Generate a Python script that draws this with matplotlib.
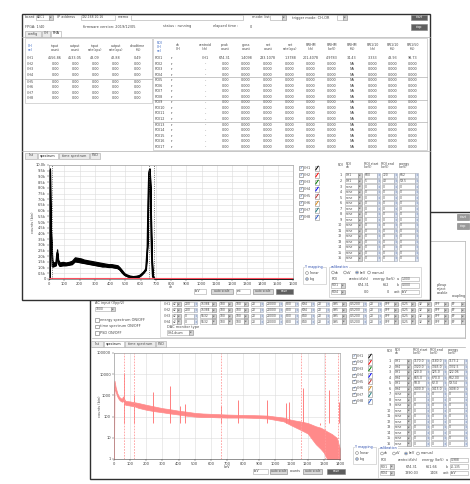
import matplotlib
matplotlib.use("Agg")
import matplotlib.pyplot as plt
from matplotlib.patches import Rectangle, Circle
from matplotlib.ticker import FixedLocator, FuncFormatter

# front window spectrum, CH1 (x = ch, y = counts), noise band
front_ch = [0, 3, 5, 6, 8, 10, 13, 17, 22, 27, 35, 45, 53, 60, 70, 90, 110, 130, 150, 170,
            190, 210, 230, 250, 270, 290, 310, 330, 350, 370, 390, 410, 430, 450, 465, 480,
            495, 510, 530, 550, 570, 590, 605, 620, 635, 645, 650, 655, 660, 665, 670, 675,
            680, 690, 720, 1600]
front_lo = [0, 100, 3300, 9500, 7200, 5200, 3800, 2600, 1100, 1100, 1150, 1200, 2300, 1400,
            1150, 1200, 1200, 1250, 1300, 1550, 1500, 1450, 1400, 1350, 1300, 1250, 1200, 1150,
            1100, 1100, 1050, 1050, 1000, 950, 800, 550, 350, 250, 150, 150, 150, 200, 350, 550,
            800, 2800, 6800, 9300, 9500, 7800, 3800, 1400, 200, 30, 10, 10]
front_hi = [0, 300, 3600, 9700, 7600, 5700, 4200, 3100, 1500, 1500, 1450, 1500, 2600, 1700,
            1450, 1500, 1450, 1500, 1600, 1900, 1850, 1800, 1700, 1650, 1600, 1550, 1500, 1450,
            1400, 1350, 1300, 1300, 1250, 1200, 1000, 750, 500, 400, 300, 250, 280, 350, 500, 700,
            1000, 3200, 7200, 9600, 9700, 8200, 4200, 1700, 400, 80, 30, 30]
front_ch2_x = [0, 1600]
front_ch2_y = [120, 120]
front_roi = [20, 655, 690]

# back window spectrum (x = keV, log counts)
back_kev = [0, 3, 10, 20, 30, 40, 50, 55, 65, 70, 80, 90, 100, 110, 130, 150, 200, 250, 300, 350,
            400, 450, 500, 550, 600, 650, 700, 750, 800, 850, 900, 950, 1000, 1050, 1100, 1150,
            1200, 1250, 1280, 1300, 1320, 1350, 1380, 1400]
back_lo = [1, 2500, 1500, 900, 650, 550, 500, 600, 400, 360, 350, 340, 330, 320, 300, 260, 210,
           180, 160, 140, 125, 110, 100, 95, 95, 92, 90, 90, 90, 88, 85, 82, 70, 60, 38, 25, 16,
           5, 3, 2, 1, 1, 1, 1]
back_hi = [3000, 5000, 2500, 1300, 900, 750, 700, 900, 650, 560, 540, 530, 520, 500, 470, 440,
           360, 300, 250, 220, 190, 170, 150, 140, 135, 130, 125, 122, 120, 118, 115, 112, 100,
           90, 70, 60, 50, 35, 30, 25, 20, 15, 10, 3]
back_peak_kev = [60, 122, 240, 345, 410, 440, 662, 770, 950, 1065, 1085, 1173, 1275, 1332, 1395]
back_peak_cnt = [11000, 1100, 1500, 2800, 320, 380, 300, 600, 600, 450, 500, 2200, 40, 1800, 500]
back_roi = [60, 122, 662, 1160, 1310, 1390]

# table texts
pha_head = ["CH\nsel", "input\ncount", "output\ncount", "input\nrate(cps)", "output\nrate(cps)",
            "deadtime\n(%)"]
pha_row1 = ["4556.86", "4533.05", "43.09", "42.88", "0.49"]
roi_head = ["ROI\nCH\nsel", "ch\nCH", "centroid\n(ch)", "peak\ncount", "gross\ncount",
            "net\ncount", "net\nrate(cps)", "FWHM\n(ch)", "FWHM\n(keV)", "FWHM\n(%)",
            "FW1/10\n(ch)", "FW1/10\n(%)", "FW1/50\n(%)"]
roi_row1 = ["CH1", "674.31", "1.4098", "233.1078", "1.3788", "201.4078", "4.9783", "34.43",
            "3.333", "48.93", "98.73"]
roi_rowx = ["-", "0.00", "0.000", "0.000", "0.000", "0.000", "0.000", "NA", "0.000", "0.000",
            "0.000"]
front_roi_ch = ["CH1", "CH1"] + ["none"] * 14
front_roi_start = ["600", "5"] + ["0"] * 14
front_roi_end = ["720", "40"] + ["0"] * 14
front_roi_energy = ["662", "59.5"] + ["0"] * 14
back_roi_ch = ["CH1", "CH4", "CH1", "CH4", "CH1", "CH4"] + ["none"] * 10
back_roi_start = ["1170.0", "1320.0", "120.0", "655.0", "58.0", "1400.0"] + ["0"] * 10
back_roi_end = ["1180.0", "1345.0", "125.0", "670.0", "62.0", "1415.0"] + ["0"] * 10
back_roi_energy = ["1173.2", "1332.5", "122.06", "662.00", "59.54", "1408.0"] + ["0"] * 10
ch_names = ["CH1", "CH2", "CH3", "CH4"]
ch_cells = [["x2", "200", "15384", "100", "100", "20", "20000", "800", "694", "20", "X95",
             "0.5200", "20", "OFF", "0.25", "32", "OFF", "BF"],
            ["x2", "200", "15384", "100", "100", "20", "20000", "800", "694", "20", "X95",
             "0.5200", "20", "OFF", "0.25", "32", "OFF", "BF"],
            ["x2", "0", "5532", "100", "100", "20", "20000", "800", "840", "20", "X95",
             "0.5200", "20", "OFF", "0.25", "32", "OFF", "BF"],
            ["x2", "0", "5532", "100", "100", "20", "20000", "800", "840", "20", "X95",
             "0.5200", "20", "OFF", "0.25", "32", "OFF", "BF"]]
ch_kinds = ["dd", "sp", "dd", "dd", "dd", "sp", "sp", "sp", "sp", "sp", "dd", "sp", "sp", "dd",
            "dd", "dd", "dd", "dd"]
ch_widths = [9, 13, 16, 13, 13, 12, 16, 13, 13, 12, 14, 17, 12, 14, 14, 13, 14, 14]
legend_colors = ["black", "red", "green", "blue", "#c03030", "#e09020", "#208080", "#3060d0"]

W, H = 470, 484
FS = 2.7
FF = 2.2  # text inside entry fields
TXT = "#454545"
LAYER = 0

fig = plt.figure(figsize=(W / 100, H / 100), dpi=100)
bg = fig.add_axes([0, 0, 1, 1])
bg.set_xlim(0, W)
bg.set_ylim(H, 0)
bg.axis("off")


def box(x, y, w, h, fc="white", ec="#a8a8a8", lw=0.4, k=1):
    bg.add_patch(Rectangle((x, y), w, h, facecolor=fc, edgecolor=ec, linewidth=lw,
                           zorder=LAYER + k))


def label(x, y, s, size=FS, color=TXT, ha="center", k=3, **kw):
    bg.text(x, y, s, fontsize=size, color=color, ha=ha, va="center", zorder=LAYER + k,
            linespacing=0.95, **kw)


def hline(x0, x1, y, color="#b0b0b0", lw=0.5):
    bg.plot([x0, x1], [y, y], color=color, lw=lw, zorder=LAYER + 1.5)


def vline(x, y0, y1, color="#b0b0b0", lw=0.5):
    bg.plot([x, x], [y0, y1], color=color, lw=lw, zorder=LAYER + 1.5)


def field(x, y, w, s="", ha="left"):
    box(x, y - 2.3, w, 4.6, k=2)
    if s:
        label(x + 0.8 if ha == "left" else x + w / 2, y, s, ha=ha, size=FF)


def dropdown(x, y, w, s):
    field(x, y, w - 4, s)
    box(x + w - 4, y - 2.3, 4, 4.6, fc="#d6d6d6", ec="#8a8a8a", k=2)
    label(x + w - 2, y, "▼", size=1.5)


def spin(x, y, w, s):
    field(x, y, w - 3.5, s)
    box(x + w - 3.5, y - 2.3, 3.5, 4.6, fc="#dde4f0", ec="#a0a8b8", k=2)
    label(x + w - 1.75, y, "↕", size=2.0, color="#5070b0")


def button(x, y, w, s, dark=False):
    box(x, y - 2.6, w, 5.2, fc="#5e5e5e" if dark else "#d9d9d9", ec="#808080", k=2)
    label(x + w / 2, y, s, color="white" if dark else TXT, size=FF)


def check(x, y, on=True):
    box(x - 1.6, y - 1.6, 3.2, 3.2, ec="#707070", k=2)
    if on:
        label(x, y, "✓", size=2.8, color="#2050a0")


def radio(x, y, on=False):
    bg.add_patch(Circle((x, y), 1.4, facecolor="white", edgecolor="#808080", lw=0.4,
                        zorder=LAYER + 2))
    if on:
        bg.add_patch(Circle((x, y), 0.7, facecolor="#2050a0", lw=0, zorder=LAYER + 2.5))


def icon(x, y, color):
    box(x, y - 2.5, 4, 5, ec="#909090", k=2)
    bg.plot([x + 0.8, x + 3.2], [y + 1.8, y - 1.8], color=color, lw=0.7, zorder=LAYER + 2.5)


def group(x, y, w, h, title):
    box(x, y, w, h, ec="#c0c0c0", k=1.2)
    label(x + 2, y, title, ha="left", color="#3050b0", size=2.4,
          bbox=dict(facecolor="white", edgecolor="none", pad=0.2))


def tabs(x, y, names, sel):
    for i, n in enumerate(names):
        w = len(n) * 2.0 + 4
        box(x, y, w, 6, fc="white" if i == sel else "#ebebeb", ec="#a8a8a8", k=1.6)
        label(x + w / 2, y + 3, n, size=2.4, color="#1a1a1a" if i == sel else TXT)
        x += w + 1


def legend_col(x, y0, step):
    for i, c in enumerate(legend_colors):
        y = y0 + i * step
        check(x, y)
        label(x + 2.5, y, f"CH{i + 1}", ha="left", size=2.4)
        icon(x + 14, y, c)


def roi_table(x, y0, step, chs, starts, ends, energies):
    hs = 2.3
    label(x + 2, y0 - 10, "ROI", ha="left", size=hs)
    label(x + 10, y0 - 10, "ROI\nch", ha="left", size=hs)
    label(x + 28, y0 - 10, "ROI start\n(keV)", ha="left", size=hs)
    label(x + 45, y0 - 10, "ROI end\n(keV)", ha="left", size=hs)
    label(x + 63, y0 - 10, "energy\n(keV)", ha="left", size=hs)
    for i in range(16):
        y = y0 + i * step
        label(x + 6, y, str(i + 1), ha="right", size=2.4)
        dropdown(x + 9, y, 17, chs[i])
        spin(x + 28, y, 16, starts[i])
        spin(x + 46, y, 15, ends[i])
        spin(x + 63, y, 19, energies[i])


def calib(x, y, c1, e1, c2, e2, a, b):
    group(x, y, 92, 30, "calibration")
    s = 2.4
    yy = y + 5.5
    for j, (t, on) in enumerate([("ch", False), ("eV", False), ("keV", True), ("manual", False)]):
        radio(x + 4 + j * 12, yy, on)
        label(x + 6.3 + j * 12, yy, t, ha="left", size=s)
    yy = y + 12
    label(x + 3, yy, "ROI", ha="left", size=s)
    label(x + 20, yy, "centroid(ch)", ha="left", size=s)
    label(x + 44, yy, "energy (keV)", ha="left", size=s)
    label(x + 68, yy, "a", ha="left", size=s)
    field(x + 72, yy, 18, a)
    yy = y + 18.5
    dropdown(x + 2, yy, 14, "ROI1")
    label(x + 40, yy, c1, ha="right", size=s)
    label(x + 60, yy, e1, ha="right", size=s)
    label(x + 68, yy, "b", ha="left", size=s)
    field(x + 72, yy, 18, b)
    yy = y + 25
    dropdown(x + 2, yy, 14, "ROI4")
    label(x + 40, yy, c2, ha="right", size=s)
    label(x + 60, yy, e2, ha="right", size=s)
    label(x + 65, yy, "unit", ha="left", size=s)
    field(x + 72, yy, 18, "keV")


def ymap(x, y):
    group(x, y, 23, 17, "Y mapping")
    radio(x + 4, y + 6, False)
    label(x + 7, y + 6, "linear", ha="left", size=2.4)
    radio(x + 4, y + 12, True)
    label(x + 7, y + 12, "log", ha="left", size=2.4)


# ---------------- back window ----------------
LAYER = 1
box(90, 212, 400, 267, ec="#303030", lw=1.0, k=0.5)
box(457, 214.4, 12, 5.2, fc="#9a9a9a", ec="#808080", k=2.2)
box(457, 223.4, 12, 5.2, fc="#9a9a9a", ec="#808080", k=2.2)
label(463, 217, "start", color="white", size=FF, k=3.2)
label(463, 226, "stop", color="white", size=FF, k=3.2)
hline(300, 465, 241)
vline(465, 241, 338)
hline(92, 465, 338)
box(160, 300, 305, 37, ec="#c8c8c8", k=1.1)
label(95, 303, "AC input (Vpp/2)", ha="left", size=2.5)
dropdown(95, 309, 20, "1000")
for j, s in enumerate(["energy spectrum ON/OFF", "time spectrum ON/OFF", "PSD ON/OFF"]):
    check(97, 320 + j * 6.5, on=False)
    label(100, 320 + j * 6.5, s, ha="left", size=2.5)
label(437, 289, "pileup\nreject\nenable", ha="left", size=2.4)
label(452, 296.5, "coupling", ha="left", size=2.4)
for r, name in enumerate(ch_names):
    y = 304 + r * 5.9
    label(164, y, name, ha="left", size=2.4)
    x = 172
    for val, kind, w in zip(ch_cells[r], ch_kinds, ch_widths):
        if kind == "dd":
            dropdown(x, y, w, val)
        else:
            spin(x, y, w, val)
        x += w + 3
label(167, 327, "DAC monitor type", ha="left", size=2.5)
dropdown(167, 332.5, 26, "CH4-dsum")
tabs(91, 341, ["list", "spectrum", "time spectrum", "PSD"], 1)
hline(91, 465, 347)
label(100, 406, "counts (bin)", rotation=90, size=2.5)
label(227, 467.5, "keV", size=2.5)
field(253, 471.5, 15, "keV")
button(270, 471.5, 17, "auto scale")
label(290, 471.5, "counts", ha="left", size=2.4)
button(303, 471.5, 19, "auto scale")
button(327, 471.5, 18, "save", dark=True)
legend_col(354, 356, 6.45)
roi_table(385, 361.5, 5.47, back_roi_ch, back_roi_start, back_roi_end, back_roi_energy)
ymap(353, 447)
calib(378, 448, "674.31", "661.66", "1390.03", "1408", "0.988", "-0.135")

# ---------------- front window ----------------
LAYER = 10
box(22, 14, 408, 286, ec="#303030", lw=1.0, k=0.5)
label(25, 17.5, "board", ha="left", size=2.5)
dropdown(36, 17.5, 17, "ADC1")
label(57, 17.5, "IP address", ha="left", size=2.5)
field(81, 17.5, 34, "192.168.10.16")
label(118, 17.5, "memo", ha="left", size=2.5)
field(131, 17.5, 112)
label(252, 17.5, "mode: list", ha="left", size=2.5)
dropdown(270, 17.5, 16, "")
label(292, 17.5, "trigger mode: CH-OR", ha="left", size=2.5)
dropdown(337, 17.5, 10, "")
button(411, 17.5, 16, "start", dark=True)
button(411, 27, 16, "stop", dark=True)
label(25, 26.5, "FPGA: 1/40", ha="left", size=2.5)
label(83, 26.5, "firmware version: 2019/12/05", ha="left", size=2.5)
label(163, 26.5, "status : running", ha="left", size=2.5)
label(213, 26.5, "elapsed time :", ha="left", size=2.5)
label(250, 26.5, "0", ha="left", size=2.5)
tabs(25, 30.5, ["config", "CH", "PHA"], 2)
hline(22, 430, 36.5)

# PHA table
box(25, 38, 127, 65, ec="#b8b8b8", k=1.1)
pha_x = [28, 55, 75, 95, 116, 138]
for j, (hx, s) in enumerate(zip(pha_x, pha_head)):
    label(hx, 48, s, ha="left" if j == 0 else "center", size=2.3,
          color="#3060c0" if j == 0 else TXT)
for i in range(8):
    y = 58 + i * 5.55 + (1.5 if i > 3 else 0)
    label(27, y, f"CH{i + 1}", ha="left", size=2.4)
    vals = pha_row1 if i == 0 else ["0.00"] * 5
    for hx, v in zip(pha_x[1:], vals):
        label(hx, y, v, size=2.4)
hline(25, 152, 78.5)

# ROI result table
box(153, 38, 274, 112, ec="#b8b8b8", k=1.1)
roi_x = [157, 178, 205, 225, 246, 268, 290, 311, 332, 352, 373, 393, 413]
for j, (hx, s) in enumerate(zip(roi_x, roi_head)):
    label(hx, 47, s, ha="left" if j == 0 else "center", size=2.3,
          color="#3060c0" if j == 0 else TXT)
for i in range(17):
    y = 58 + i * 5.55
    label(155, y, f"ROI{i + 1}", ha="left", size=2.4)
    label(172, y, "▾", size=2.0)
    vals = roi_row1 if i == 0 else roi_rowx
    for hx, v in zip(roi_x[2:], vals):
        label(hx, y, v, size=2.4)
for i in range(1, 4):
    hline(153, 427, 58 + (4 * i - 0.5) * 5.55)

hline(22, 430, 150.5)
tabs(25, 152.5, ["list", "spectrum", "time spectrum", "PSD"], 1)
label(33, 222, "counts (bin)", rotation=90, size=2.5)
label(171, 287.5, "ch", size=2.5)
field(194, 291.5, 12, "keV")
button(211, 291.5, 22, "auto scale")
field(236, 291.5, 14, "cnt")
button(253, 291.5, 20, "auto scale")
button(276, 291.5, 17, "save", dark=True)
legend_col(301, 168, 7)
roi_table(336, 175.5, 5.53, front_roi_ch, front_roi_start, front_roi_end, front_roi_energy)
ymap(303, 267)
calib(329, 267, "674.31", "662", "0.0", "0", "1.000", "0.000")


def style(ax):
    ax.set_facecolor("white")
    for sp in ax.spines.values():
        sp.set_color("#909090")
        sp.set_linewidth(0.4)
    ax.spines["bottom"].set_color("#404040")
    ax.tick_params(labelsize=2.6, length=1.2, width=0.3, pad=1, colors="#404040")
    ax.grid(True, color="#dcdcdc", lw=0.4)
    ax.set_axisbelow(True)


# front spectrum plot
fax = fig.add_axes([49 / W, 1 - 279 / H, 244 / W, 114 / H])
style(fax)
fax.fill_between(front_ch, front_lo, front_hi, color="black", lw=0.9)
fax.plot(front_ch, front_lo, color="black", lw=1.1)
fax.plot(front_ch2_x, front_ch2_y, color="#ff5060", lw=0.8)
for r in front_roi:
    fax.axvline(r, color="#505050", ls=":", lw=0.6)
fax.set_xlim(0, 1600)
fax.set_ylim(0, 10000)
fax.xaxis.set_major_locator(FixedLocator(list(range(0, 1601, 100))))
fax.yaxis.set_major_locator(FixedLocator(list(range(0, 10001, 500))))
fax.yaxis.set_major_formatter(FuncFormatter(lambda v, p: "0" if v == 0 else f"{v / 1000:.1f}k"))

# back spectrum plot
bax = fig.add_axes([114 / W, 1 - 459 / H, 226 / W, 106 / H])
style(bax)
bax.set_yscale("log")
bax.fill_between(back_kev, back_lo, back_hi, color="#ff8a8a", lw=0.5)
bax.vlines(back_peak_kev, 50, back_peak_cnt, color="#ff8080", lw=0.7)
for r in back_roi:
    bax.axvline(r, color="#ff9a9a", ls=(0, (2, 1.5)), lw=0.6)
bax.set_xlim(0, 1400)
bax.set_ylim(1, 100000)
bax.xaxis.set_major_locator(FixedLocator(list(range(0, 1401, 100))))
bax.yaxis.set_major_locator(FixedLocator([1, 10, 100, 1000, 10000, 100000]))
bax.yaxis.set_major_formatter(FuncFormatter(lambda v, p: f"{int(v)}"))
bax.minorticks_off()

fig.savefig("out.png", dpi=100)
